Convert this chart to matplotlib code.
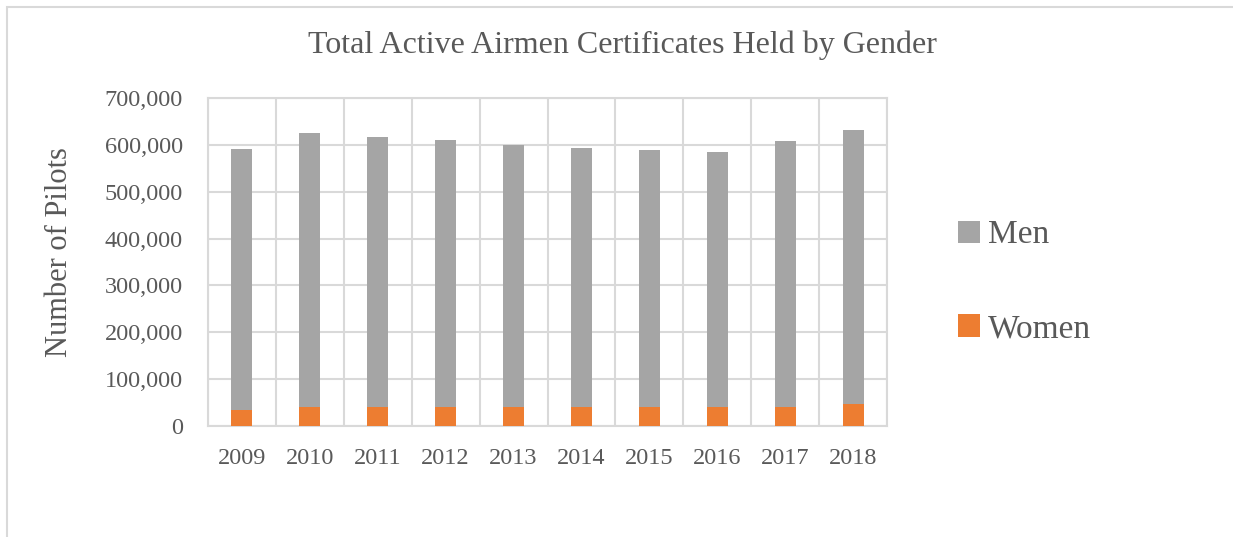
import matplotlib
matplotlib.use("Agg")
import matplotlib.pyplot as plt
from matplotlib.patches import Rectangle
import numpy as np

years = ["2009", "2010", "2011", "2012", "2013", "2014", "2015", "2016", "2017", "2018"]
women = [35000, 40000, 40000, 40000, 40000, 40000, 40000, 40000, 40000, 46000]
men = [557000, 586000, 577000, 570000, 559000, 553000, 549000, 544000, 569000, 586000]

grey = "#a5a5a5"
orange = "#ed7d31"
txt = "#595959"
gridc = "#d9d9d9"

plt.rcParams["font.family"] = ["Liberation Serif", "DejaVu Serif"]

fig = plt.figure(figsize=(12.33, 5.37), dpi=100)
fig.patches.append(Rectangle((7 / 1233, -0.01), 1.2, 1 - 7 / 537 + 0.01, transform=fig.transFigure,
                             fill=False, edgecolor=gridc, linewidth=1.5))

ax = fig.add_axes([208 / 1233, 1 - 426 / 537, 679 / 1233, 328 / 537])
x = np.arange(len(years))
ax.bar(x, women, width=0.31, color=orange, label="Women", zorder=3)
ax.bar(x, men, width=0.31, bottom=women, color=grey, label="Men", zorder=3)

ax.set_xlim(-0.5, len(years) - 0.5)
ax.set_ylim(0, 700000)
ax.set_yticks(np.arange(0, 700001, 100000))
ax.set_yticklabels(["0"] + [f"{v:,}" for v in range(100000, 700001, 100000)])
ax.set_xticks(x)
ax.set_xticklabels(years)
ax.set_xticks(np.arange(-0.5, len(years), 1), minor=True)
ax.grid(axis="y", color=gridc, linewidth=1.5, zorder=0)
ax.grid(axis="x", which="minor", color=gridc, linewidth=1.5, zorder=0)
ax.tick_params(axis="both", which="both", length=0, labelsize=17.5, colors=txt)
ax.tick_params(axis="x", pad=16)
ax.tick_params(axis="y", pad=18)
for s in ax.spines.values():
    s.set_color(gridc)
    s.set_linewidth(1.5)

ax.set_ylabel("Number of Pilots", fontsize=22, color=txt)
ax.yaxis.set_label_coords(-0.198, 0.53)
fig.text(622 / 1233, 1 - 45 / 537, "Total Active Airmen Certificates Held by Gender",
         ha="center", va="center", fontsize=23, color=txt)

handles, labels = ax.get_legend_handles_labels()
leg = fig.legend(handles[::-1], labels[::-1], loc="center left",
                 bbox_to_anchor=(928 / 1233, 1 - 282 / 537), frameon=False,
                 fontsize=24, labelcolor=txt, handlelength=0.65, handleheight=0.65,
                 handletextpad=0.25, labelspacing=1.9)

fig.savefig("out.png", dpi=100)
